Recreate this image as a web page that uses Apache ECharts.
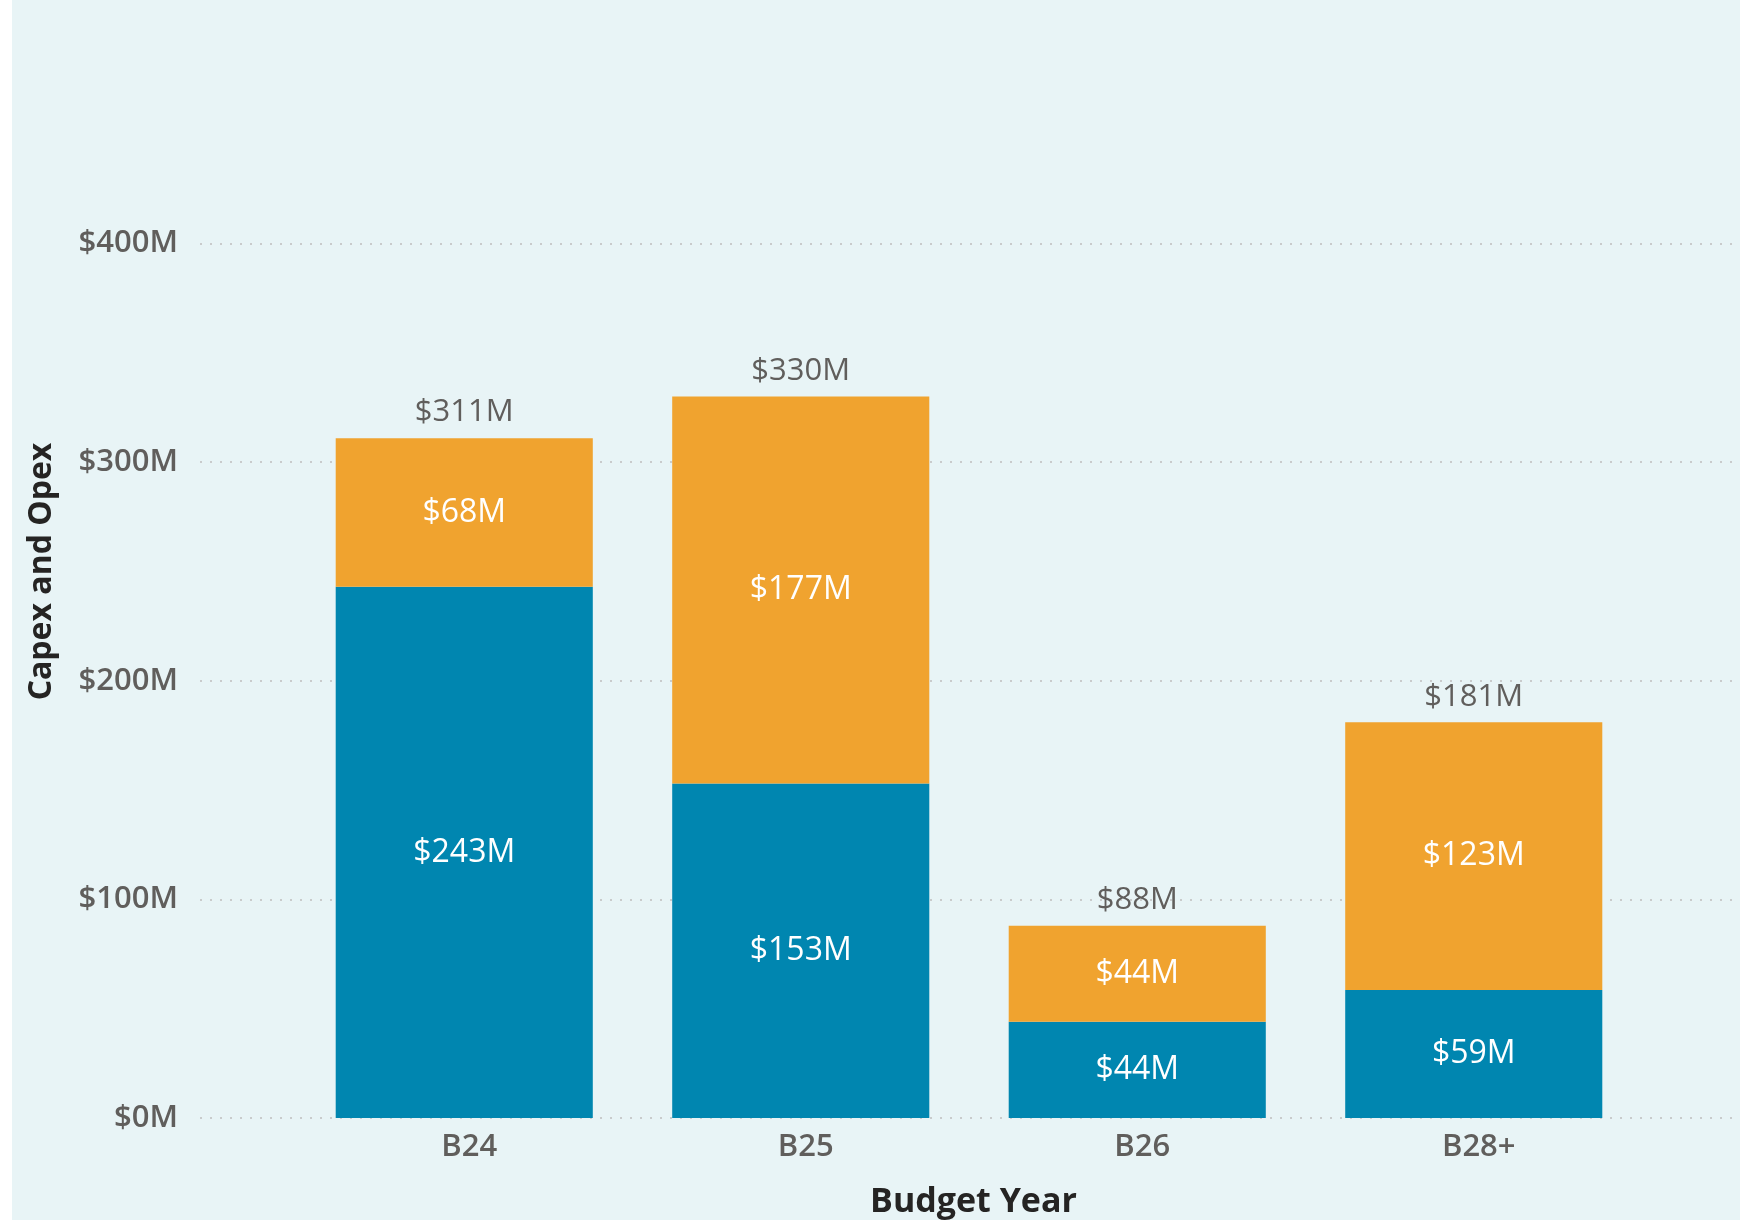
<!DOCTYPE html>
<html>
<head>
<meta charset="utf-8">
<script src="https://cdn.jsdelivr.net/npm/echarts@6/dist/echarts.min.js"></script>
<style>
  html, body { margin: 0; padding: 0; background: #ffffff; }
  #main { position: absolute; left: 0; top: 0; width: 1740px; height: 1220px;
          background: linear-gradient(to right, #ffffff 0, #ffffff 12px, #E8F4F6 12px, #E8F4F6 100%); }
</style>
</head>
<body>
<div id="main"></div>
<script>
// ---- data ----
const categories = ['B24', 'B25', 'B26', 'B28+'];
const capex = [243, 153, 44, 58.5];
const opex = [68, 177, 44, 122.5];
const totals = [311, 330, 88, 181];
const yTicks = [0, 100, 200, 300, 400];

const FONT = '"Open Sans", "Noto Sans", sans-serif';
const GRAY = '#605E5C';
const DARK = '#252423';
const fmt = v => '$' + Math.round(v) + 'M';

const chart = echarts.init(document.getElementById('main'), null, { renderer: 'canvas' });

const option = {
  backgroundColor: 'transparent',
  animation: false,
  textStyle: { fontFamily: FONT },
  grid: [
    { left: 200, right: 4, top: 25, bottom: 102, containLabel: false, outerBoundsMode: 'none' },
    { left: 296, right: 98, top: 25, bottom: 102, containLabel: false, outerBoundsMode: 'none' }
  ],
  xAxis: [
    { type: 'category', gridIndex: 0, data: categories, show: false },
    {
      type: 'category', gridIndex: 1, data: categories,
      axisLine: { show: false }, axisTick: { show: false },
      axisLabel: { color: GRAY, fontSize: 31, fontWeight: 600, fontFamily: FONT, margin: 14,
                   padding: [0, 0, 0, 10] },
      name: 'Budget Year', nameLocation: 'middle', nameGap: 67,
      nameTextStyle: { color: DARK, fontSize: 34, fontWeight: 'bold', fontFamily: FONT,
                       padding: [0, 0, 0, 9] }
    }
  ],
  yAxis: [
    {
      type: 'value', gridIndex: 0, min: 0, max: 500, interval: 100,
      axisLine: { show: false }, axisTick: { show: false },
      axisLabel: {
        color: GRAY, fontSize: 31, fontWeight: 600, fontFamily: FONT, margin: 22,
        showMaxLabel: false,
        formatter: v => (yTicks.indexOf(v) >= 0 ? '$' + v + 'M' : '')
      },
      splitLine: {
        show: true, showMaxLine: false,
        lineStyle: { color: '#C9CBCC', width: 2, type: [2, 8] }
      },
      name: 'Capex and Opex', nameLocation: 'middle', nameGap: 142,
      nameTextStyle: { color: DARK, fontSize: 32, fontWeight: 'bold', fontFamily: FONT }
    },
    { type: 'value', gridIndex: 1, min: 0, max: 500, interval: 100, show: false, splitLine: { show: false } }
  ],
  series: [
    {
      name: 'Capex', type: 'bar', stack: 'total', xAxisIndex: 1, yAxisIndex: 1,
      data: capex, barCategoryGap: '23.6%',
      itemStyle: { color: '#0086B0' },
      label: { show: true, position: 'inside', color: '#ffffff', fontSize: 32, fontFamily: FONT,
               padding: [6, 0, 0, 0], formatter: p => fmt(p.value) }
    },
    {
      name: 'Opex', type: 'bar', stack: 'total', xAxisIndex: 1, yAxisIndex: 1,
      data: opex, barCategoryGap: '23.6%',
      itemStyle: { color: '#F0A32F' },
      label: { show: true, position: 'inside', color: '#ffffff', fontSize: 32, fontFamily: FONT,
               padding: [6, 0, 0, 0], formatter: p => fmt(p.value) }
    },
    {
      name: 'Total', type: 'bar', stack: 'total', xAxisIndex: 1, yAxisIndex: 1,
      data: categories.map(() => 0), barCategoryGap: '23.6%',
      itemStyle: { color: 'rgba(0,0,0,0)' },
      label: { show: true, position: 'top', distance: 10, color: GRAY, fontSize: 31, fontFamily: FONT,
               formatter: p => fmt(totals[p.dataIndex]) }
    }
  ]
};
chart.setOption(option);
</script>
</body>
</html>
